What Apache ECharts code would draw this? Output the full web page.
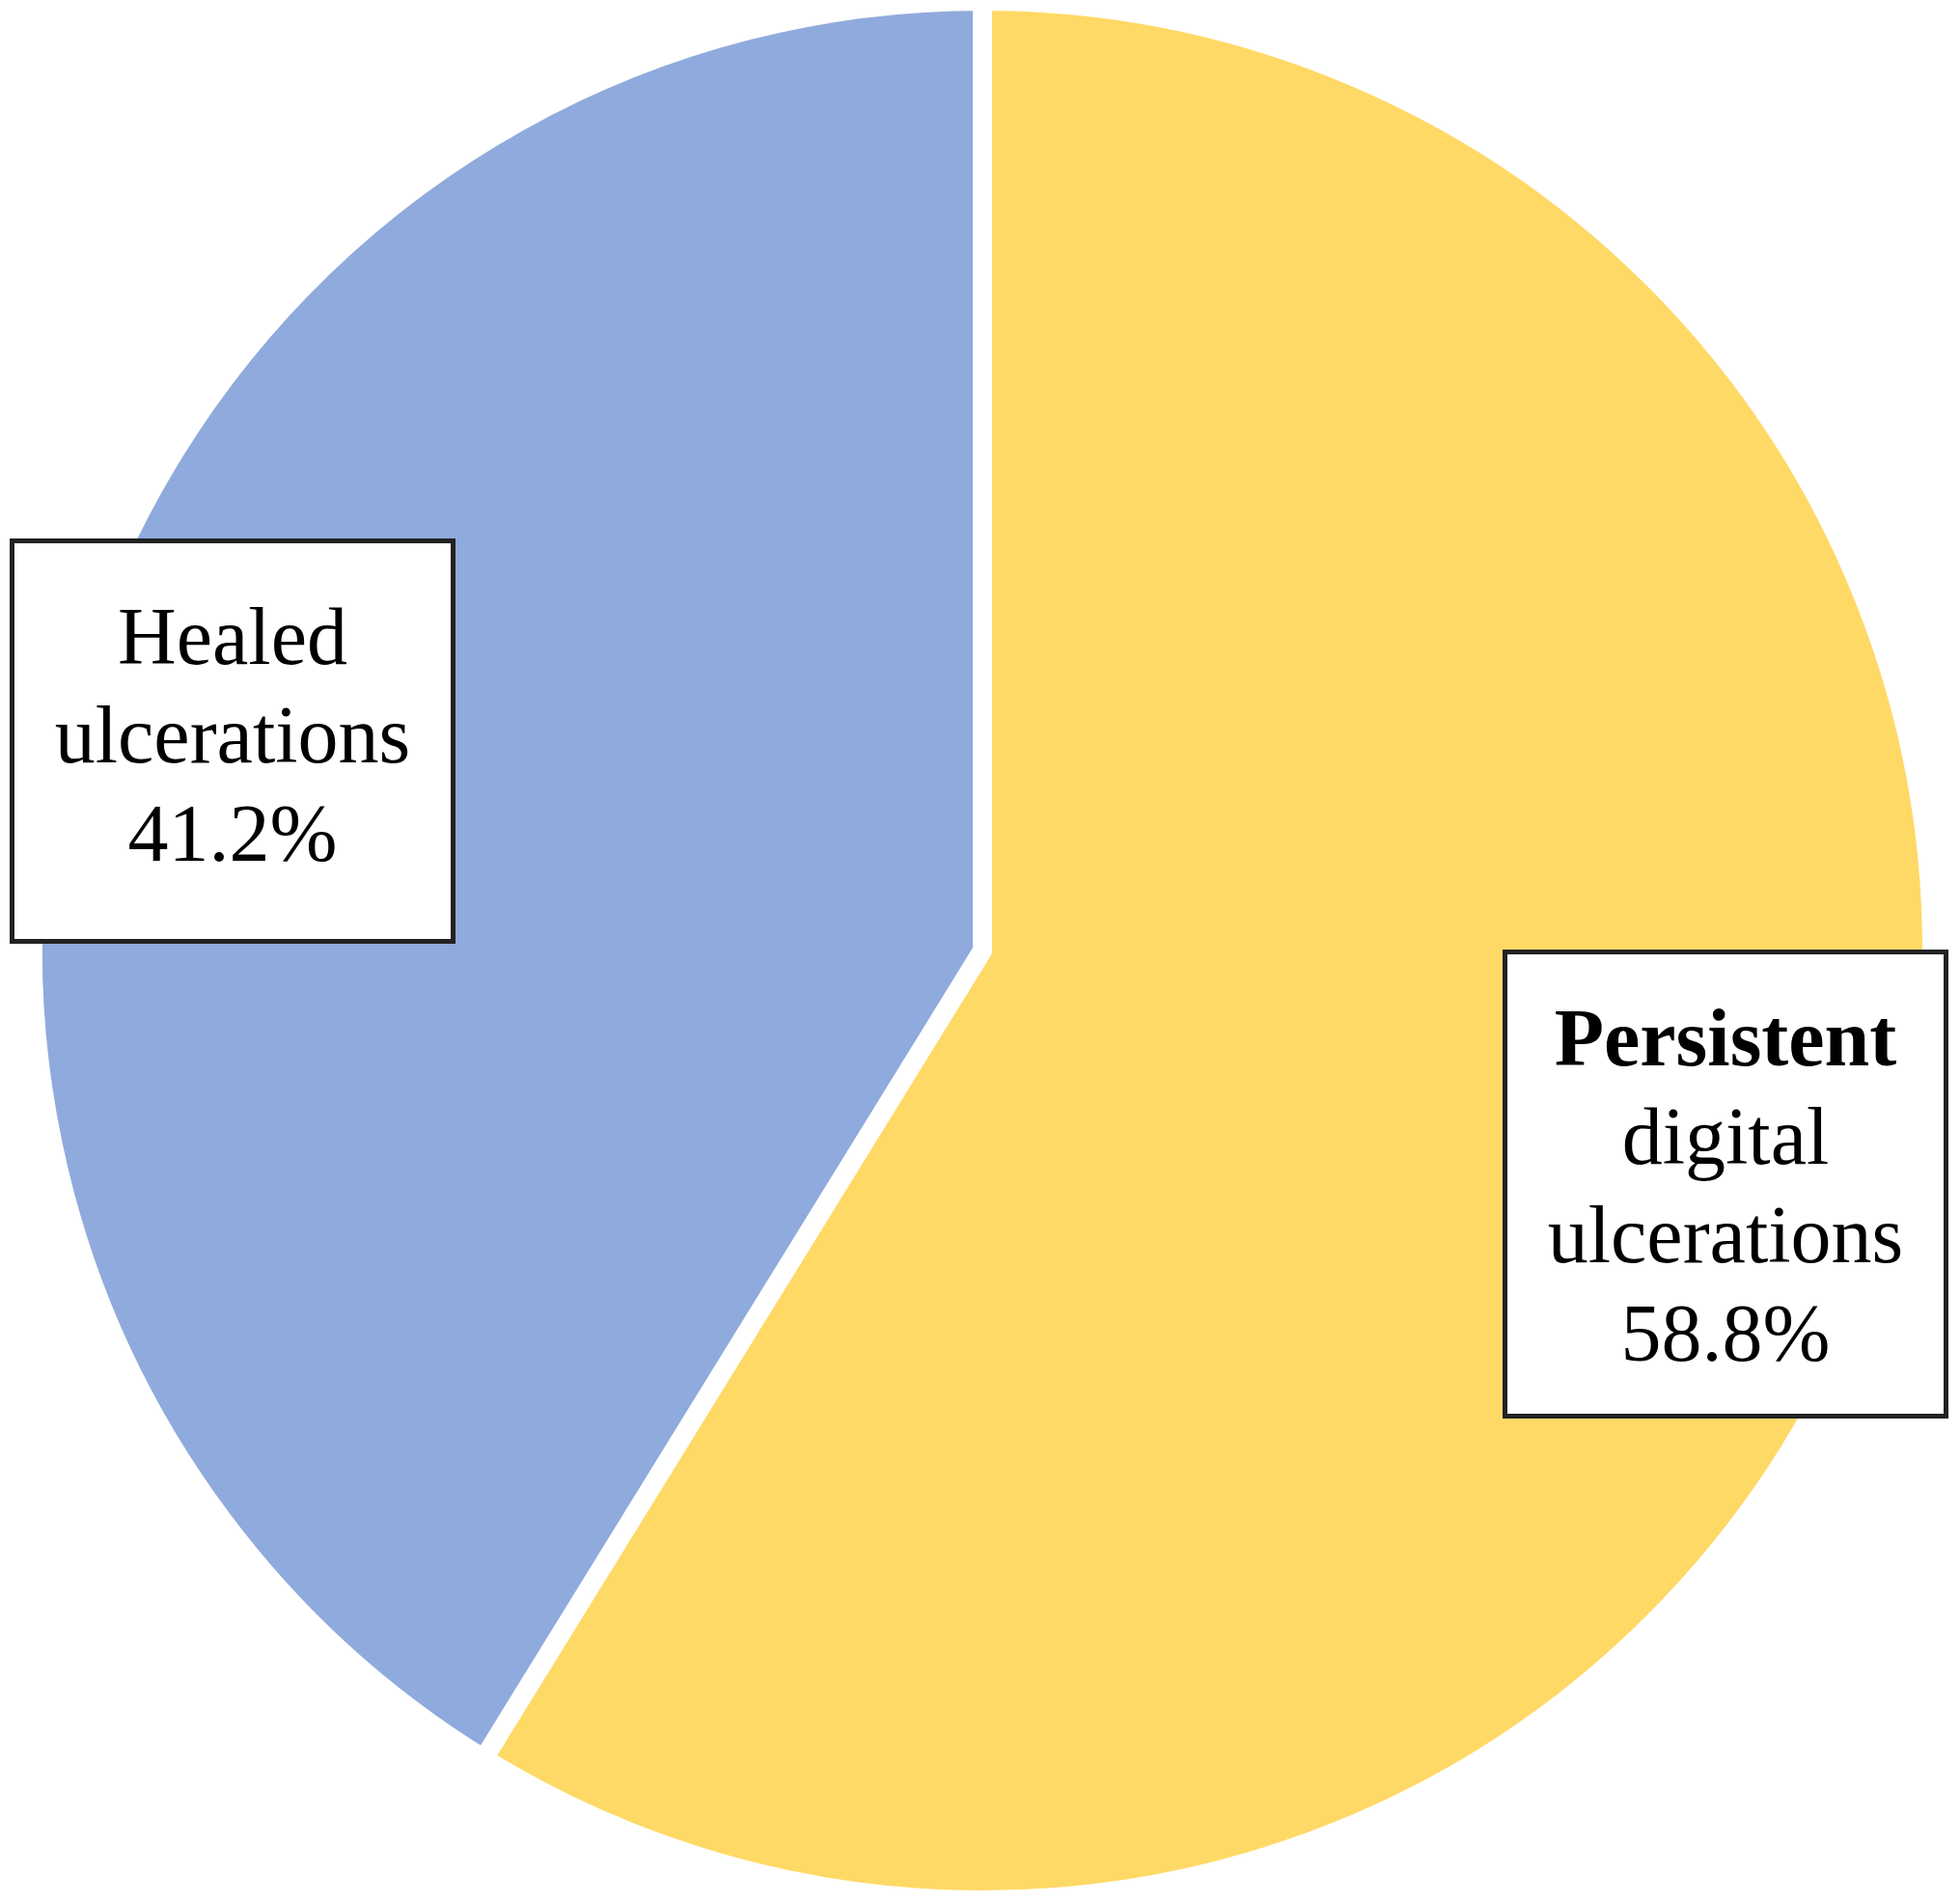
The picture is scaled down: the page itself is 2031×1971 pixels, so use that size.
<!DOCTYPE html>
<html>
<head>
<meta charset="utf-8">
<script src="https://cdn.jsdelivr.net/npm/echarts@6/dist/echarts.min.js"></script>
<style>
  html, body { margin: 0; padding: 0; background: #fff; }
  #chart { width: 2031px; height: 1971px; }
</style>
</head>
<body>
<div id="chart"></div>
<script>
  // slices, clockwise from 12 o'clock
  var names = ['Persistent digital ulcerations', 'Healed ulcerations'];
  var values = [58.8, 41.2];
  var colors = ['#FFD966', '#8FAADC'];
  // label text lines (first line of Persistent is bold)
  var labelLines = [
    ['Persistent', 'digital', 'ulcerations', '58.8%'],
    ['Healed', 'ulcerations', '41.2%']
  ];
  // label box centres
  var labelPos = [[1788, 1227], [241, 768]];
  var labelPad = [[42, 0, 26, 0], [52, 0, 52, 0]];

  var myChart = echarts.init(document.getElementById('chart'));

  var data = names.map(function (n, i) {
    return {
      name: n,
      value: values[i],
      itemStyle: { color: colors[i] },
      label: { padding: labelPad[i] }
    };
  });

  var option = {
    animation: false,
    series: [{
      type: 'pie',
      center: [1018, 985],
      radius: 984,
      startAngle: 90,
      clockwise: true,
      data: data,
      itemStyle: { borderColor: '#fff', borderWidth: 20 },
      labelLine: { show: false },
      label: {
        show: true,
        position: 'inside',
        formatter: function (p) {
          var lines = labelLines[p.dataIndex].map(function (t, k) {
            return (p.dataIndex === 0 && k === 0) ? '{b|' + t + '}' : '{n|' + t + '}';
          });
          return lines.join('\n');
        },
        width: 452,
        align: 'center',
        backgroundColor: '#fff',
        borderColor: '#222',
        borderWidth: 5,
        rich: {
          n: { fontFamily: 'Liberation Serif', fontSize: 84, lineHeight: 102, color: '#000' },
          b: { fontFamily: 'Liberation Serif', fontSize: 84, lineHeight: 102, color: '#000', fontWeight: 'bold' }
        }
      },
      labelLayout: function (params) {
        var p = labelPos[params.dataIndex];
        return { x: p[0], y: p[1], align: 'center', verticalAlign: 'middle' };
      }
    }]
  };
  myChart.setOption(option);
</script>
</body>
</html>
